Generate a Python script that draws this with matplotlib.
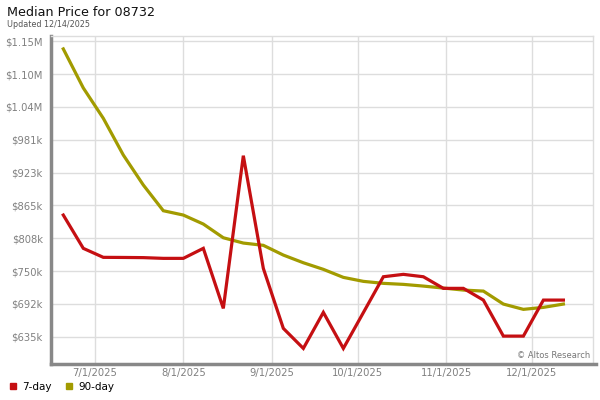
import matplotlib
matplotlib.use("Agg")
import matplotlib.pyplot as plt
import matplotlib.dates as mdates
from matplotlib.lines import Line2D
from matplotlib.ticker import FixedLocator
import pandas as pd

# weekly dates
dates = ["2025-06-20", "2025-06-27", "2025-07-04", "2025-07-11", "2025-07-18",
         "2025-07-25", "2025-08-01", "2025-08-08", "2025-08-15", "2025-08-22",
         "2025-08-29", "2025-09-05", "2025-09-12", "2025-09-19", "2025-09-26",
         "2025-10-03", "2025-10-10", "2025-10-17", "2025-10-24", "2025-10-31",
         "2025-11-07", "2025-11-14", "2025-11-21", "2025-11-28", "2025-12-05",
         "2025-12-12"]

# median price in $k
price_7day = [848.5, 790.0, 774.2, 774.0, 773.7, 772.4, 772.4, 790.0, 684.5, 952.8,
              754.8, 649.4, 614.2, 677.5, 614.2, 677.1, 740.1, 744.3, 740.1, 719.7,
              719.7, 699.1, 635.8, 635.8, 699.1, 699.1]
price_90day = [1140.4, 1071.8, 1018.5, 954.0, 901.3, 856.1, 848.5, 832.7, 808.6, 799.3,
               795.3, 778.2, 764.7, 753.1, 739.0, 732.0, 728.5, 726.7, 723.7, 720.2,
               716.7, 714.9, 692.1, 682.8, 686.3, 692.1]

ytick_vals = [634.6, 692.3, 750.0, 807.7, 865.4, 923.1, 980.8, 1038.5, 1096.2, 1153.9]
ytick_labels = ["$635k", "$692k", "$750k", "$808k", "$865k", "$923k", "$981k",
                "$1.04M", "$1.10M", "$1.15M"]
xtick_dates = ["2025-07-01", "2025-08-01", "2025-09-01", "2025-10-01", "2025-11-01", "2025-12-01"]
xtick_labels = ["7/1/2025", "8/1/2025", "9/1/2025", "10/1/2025", "11/1/2025", "12/1/2025"]

red = "#c50f12"
olive = "#a29b00"

x = mdates.date2num(pd.to_datetime(dates))

fig = plt.figure(figsize=(6, 4), dpi=100)
ax = fig.add_axes([0.085, 0.091, 0.904, 0.820])

ax.plot(x, price_90day, color=olive, lw=2.3, solid_joinstyle="miter", zorder=3)
ax.plot(x, price_7day, color=red, lw=2.3, solid_joinstyle="miter", zorder=4)

ax.set_xlim(x[0] - 4.3, x[-1] + 10.5)
ax.set_ylim(587.5, 1163.8)

ax.yaxis.set_major_locator(FixedLocator(ytick_vals))
ax.set_yticklabels(ytick_labels)
ax.xaxis.set_major_locator(FixedLocator(mdates.date2num(pd.to_datetime(xtick_dates))))
ax.set_xticklabels(xtick_labels)
ax.tick_params(axis="both", length=0, labelsize=7.2, labelcolor="#808080")
ax.tick_params(axis="y", pad=6)
ax.tick_params(axis="x", pad=3)

ax.grid(True, color="#dddddd", lw=1)
ax.set_axisbelow(True)
for s in ["top", "right"]:
    ax.spines[s].set_color("#dddddd")
    ax.spines[s].set_linewidth(1)
for s in ["left", "bottom"]:
    ax.spines[s].set_color("#888888")
    ax.spines[s].set_linewidth(2.5)
ax.spines["bottom"].set_bounds(ax.get_xlim()[0], ax.get_xlim()[1] + 1.0)

ax.text(0.995, 0.012, "© Altos Research", transform=ax.transAxes, ha="right", va="bottom",
        fontsize=6, color="#777777")

fig.text(0.012, 0.968, "Median Price for 08732", fontsize=9.2, color="#111111", va="center")
fig.text(0.012, 0.938, "Updated 12/14/2025", fontsize=5.8, color="#555555", va="center")

handles = [Line2D([], [], marker="s", ls="", color=red, markersize=4.5),
           Line2D([], [], marker="s", ls="", color=olive, markersize=4.5)]
fig.legend(handles, ["7-day", "90-day"], loc="lower left", bbox_to_anchor=(0.002, 0.005),
           ncol=2, frameon=False, fontsize=7.5, handlelength=1.0, handletextpad=0.4,
           columnspacing=1.2, borderaxespad=0.2)

fig.savefig("out.png", dpi=100)
